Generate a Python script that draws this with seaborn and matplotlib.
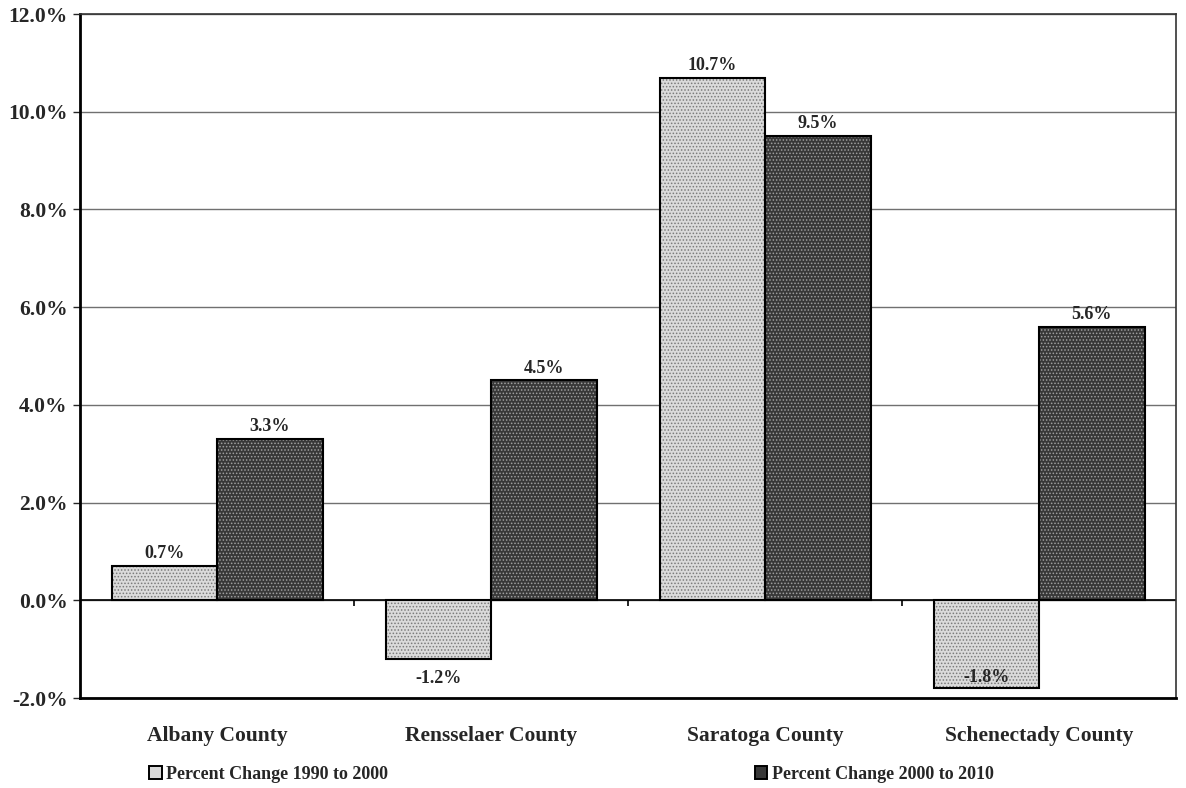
import numpy as np
import pandas as pd
import matplotlib
matplotlib.use('Agg')
import matplotlib.pyplot as plt
import seaborn as sns

counties = ['Albany County', 'Rensselaer County', 'Saratoga County', 'Schenectady County']
series_names = ['Percent Change 1990 to 2000', 'Percent Change 2000 to 2010']
change_1990_2000 = [0.7, -1.2, 10.7, -1.8]
change_2000_2010 = [3.3, 4.5, 9.5, 5.6]
y_ticks = [-2, 0, 2, 4, 6, 8, 10, 12]

df = pd.DataFrame({
    'county': counties * 2,
    'series': [series_names[0]] * 4 + [series_names[1]] * 4,
    'value': change_1990_2000 + change_2000_2010,
})

sns.set_style('white')
plt.rcParams['font.family'] = ['Liberation Serif', 'DejaVu Serif']
plt.rcParams['font.weight'] = 'bold'
plt.rcParams['hatch.linewidth'] = 0.7

fig = plt.figure(figsize=(11.86, 7.88), dpi=100)
ax = fig.add_axes([0.0675, 0.1142, 0.9241, 0.868])

palette = {series_names[0]: '#dadada', series_names[1]: '#383838'}
sns.barplot(data=df, x='county', y='value', hue='series', order=counties,
            hue_order=series_names, palette=palette, width=0.77, gap=0,
            edgecolor='black', linewidth=1.4, saturation=1, ax=ax, zorder=3)

# speckled look of the scanned bars
hatches = ['.....', '.....']
hatch_cols = ['#7a7a7a', '#a0a0a0']
for cont, h, hc in zip(ax.containers, hatches, hatch_cols):
    for p in cont:
        p.set_hatch(h)
        p.set_edgecolor(hc)
        p.set_linewidth(0)
        # outline drawn separately so hatch colour does not affect the border
        ax.add_patch(plt.Rectangle((p.get_x(), p.get_y()), p.get_width(), p.get_height(),
                                   fill=False, edgecolor='black', linewidth=1.5, zorder=4))

# value labels
for ci, cont in enumerate(ax.containers):
    vals = [change_1990_2000, change_2000_2010][ci]
    for p, v in zip(cont, vals):
        xc = p.get_x() + p.get_width() / 2
        if v >= 0:
            ax.text(xc, v + 0.08, f'{v:.1f}%', ha='center', va='bottom',
                    fontsize=13, fontweight='bold', zorder=5)
        elif v > -1.5:
            ax.text(xc, v - 0.22, f'{v:.1f}%', ha='center', va='top',
                    fontsize=13, fontweight='bold', zorder=5)
        else:
            ax.text(xc, v + 0.04, f'{v:.1f}%', ha='center', va='bottom',
                    fontsize=13, fontweight='bold', zorder=5)

ax.set_ylim(-2, 12)
ax.set_xlim(-0.5, len(counties) - 0.5)
ax.set_yticks(y_ticks)
ax.set_yticklabels([f'{t:.1f}%' for t in y_ticks], fontsize=15.5, fontweight='bold')
ax.set_xticks(range(len(counties)))
ax.set_xticklabels(counties, fontsize=15.5, fontweight='bold')
ax.tick_params(axis='x', length=0, pad=20)
ax.tick_params(axis='y', length=5, width=1, direction='out', left=True, pad=4)
ax.set_xlabel('')
ax.set_ylabel('')

ax.grid(axis='y', color='#707070', linewidth=1, zorder=0)
ax.axhline(0, color='black', linewidth=1.2, zorder=2)
ax.vlines([0.5, 1.5, 2.5], -0.12, 0, color='black', linewidth=1.2, zorder=2)

for s in ['left', 'bottom']:
    ax.spines[s].set_color('black')
    ax.spines[s].set_linewidth(2)
for s in ['top', 'right']:
    ax.spines[s].set_color('#333333')
    ax.spines[s].set_linewidth(1.2)

handles, labels = ax.get_legend_handles_labels()
ax.get_legend().remove()
leg = fig.legend(handles, labels, loc='lower left', bbox_to_anchor=(0.112, -0.014),
                 ncol=2, frameon=False, fontsize=13, handlelength=0.7,
                 handleheight=0.7, handletextpad=0.25, columnspacing=20.3)
for t in leg.get_texts():
    t.set_fontweight('bold')

fig.savefig('out.png', dpi=100)
plt.close()
